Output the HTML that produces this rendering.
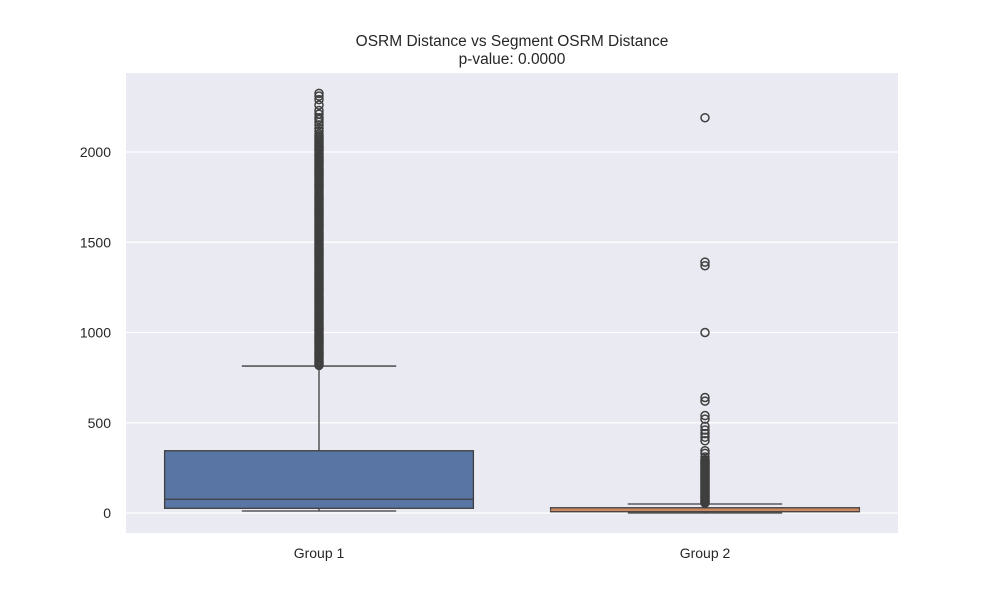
<!DOCTYPE html>
<html><head><meta charset="utf-8"><style>
html,body{margin:0;padding:0;background:#fff;}
svg text{font-family:"Liberation Sans",sans-serif;fill:#262626;}
</style></head><body>
<svg id="chart" width="1000" height="600">
<text x="512" y="46" font-size="15.5" text-anchor="middle">OSRM Distance vs Segment OSRM Distance</text>
<text x="512" y="64" font-size="15.5" text-anchor="middle">p-value: 0.0000</text>
<rect x="126" y="73" width="772" height="460" fill="#eaeaf2"/>
<g id="grid"></g><g id="marks"></g><g id="axes"></g>
</svg>
<script>
const categories = ["Group 1", "Group 2"];
const q1Values = [26, 7];
const medianValues = [76, 15];
const q3Values = [345, 29];
const whiskerLow = [11, 0];
const whiskerHigh = [814, 50];
const boxColors = ["#5975a4", "#cc8963"];
const outliers1 = [818,825,832,840,848,856,864,872,880,888,896,904,912,920,928,936,944,952,960,968,976,984,992,1000,1008,1016,1024,1032,1040,1048,1056,1064,1072,1080,1088,1096,1104,1112,1120,1128,1136,1144,1152,1160,1168,1176,1184,1192,1200,1208,1216,1224,1232,1240,1248,1256,1264,1272,1280,1288,1296,1304,1312,1320,1328,1336,1344,1352,1360,1368,1376,1384,1392,1400,1408,1416,1424,1432,1440,1448,1456,1464,1472,1480,1488,1496,1504,1512,1520,1528,1536,1544,1552,1560,1568,1576,1584,1592,1600,1608,1616,1624,1632,1640,1648,1656,1664,1672,1680,1688,1696,1704,1712,1720,1728,1736,1744,1752,1760,1768,1776,1784,1792,1800,1808,1816,1824,1832,1840,1848,1856,1864,1872,1880,1888,1896,1904,1912,1920,1928,1936,1944,1952,1960,1968,1976,1984,1992,2000,2008,2016,2024,2032,2040,2048,2056,2064,2072,2080,2090,2100,2115,2130,2150,2165,2180,2190,2210,2230,2260,2290,2310,2325];
const outliers2 = [55,60,65,70,75,80,85,90,95,100,105,110,115,120,125,130,135,140,145,150,155,160,165,170,175,180,185,190,195,200,205,210,215,220,225,230,235,240,245,250,255,260,265,270,275,280,285,290,295,310,330,345,400,420,440,460,480,520,540,620,640,1000,1370,1390,2190];
const outlierSets = [outliers1, outliers2];
const yTicks = [0, 500, 1000, 1500, 2000];

const NS = "http://www.w3.org/2000/svg";
const plotL = 126, plotR = 898;
function y(v){ return 513 - v * (513 - 152) / 2000; }
function xc(i){ return 126 + 772 * (i + 0.5) / categories.length; }
const bw = 772 / categories.length * 0.8;
function mk(tag, attrs, parent){ const e = document.createElementNS(NS, tag); for (const k in attrs) e.setAttribute(k, attrs[k]); parent.appendChild(e); return e; }
const grid = document.getElementById('grid'), marks = document.getElementById('marks'), axes = document.getElementById('axes');

yTicks.forEach(t => {
  const l = mk('line', {x1: plotL, x2: plotR, y1: y(t), y2: y(t), stroke: '#fff', 'stroke-width': 1.2}, grid);
  
  
  const tx = mk('text', {x: 111, y: y(t) + 5, 'font-size': 14, 'text-anchor': 'end'}, axes);
  tx.textContent = t;
  
  
});

categories.forEach((c, i) => {
  const cx = xc(i), g = mk('g', {}, marks);
  
  
  const st = {stroke: '#3f3f3f', 'stroke-width': 1.3, fill: 'none'};
  mk('line', Object.assign({x1: cx, x2: cx, y1: y(q3Values[i]), y2: y(whiskerHigh[i])}, st), g);
  mk('line', Object.assign({x1: cx, x2: cx, y1: y(q1Values[i]), y2: y(whiskerLow[i])}, st), g);
  mk('line', Object.assign({x1: cx - bw / 4, x2: cx + bw / 4, y1: y(whiskerHigh[i]), y2: y(whiskerHigh[i])}, st), g);
  mk('line', Object.assign({x1: cx - bw / 4, x2: cx + bw / 4, y1: y(whiskerLow[i]), y2: y(whiskerLow[i])}, st), g);
  mk('rect', {x: cx - bw / 2, y: y(q3Values[i]), width: bw, height: Math.max(1.5, y(q1Values[i]) - y(q3Values[i])), fill: boxColors[i], stroke: '#3f3f3f', 'stroke-width': 1.3}, g);
  mk('line', Object.assign({x1: cx - bw / 2, x2: cx + bw / 2, y1: y(medianValues[i]), y2: y(medianValues[i])}, st, i === 1 ? {stroke: boxColors[1]} : {}), g);
  outlierSets[i].forEach(v => {
    const o = mk('circle', {cx: cx, cy: y(v), r: 4, fill: 'none', stroke: '#3f3f3f', 'stroke-width': 1.5}, g);
    
    
  });
  const tx = mk('text', {x: cx, y: 558, 'font-size': 14, 'text-anchor': 'middle'}, axes);
  tx.textContent = c;
  
  
});
</script>
</body></html>
